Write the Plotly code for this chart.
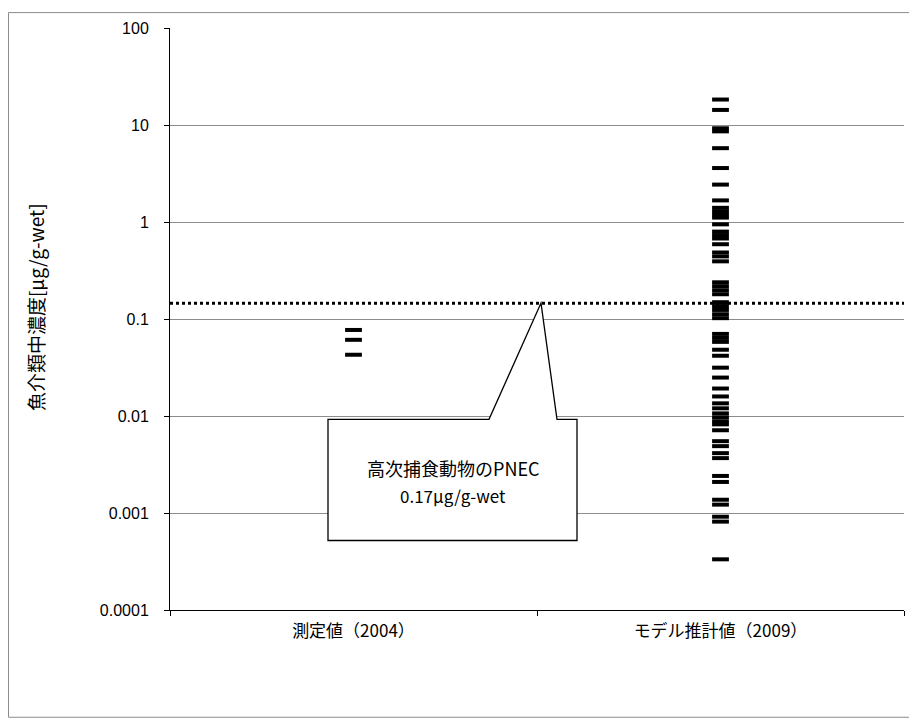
import plotly.graph_objects as go

categories = ["測定値（2004）", "モデル推計値（2009）"]
measured_2004 = [0.0771, 0.0610, 0.0428]
model_2009 = [18.3, 14.3, 9.25, 8.6, 5.77, 3.6, 2.43, 1.67, 1.40, 1.29, 1.19, 1.11,
              0.946, 0.796, 0.733, 0.676, 0.59, 0.485, 0.442, 0.393,
              0.239, 0.218, 0.198, 0.180, 0.149, 0.136, 0.124, 0.112, 0.102,
              0.0702, 0.0638, 0.0581, 0.0482, 0.0418, 0.0315, 0.0249, 0.0192,
              0.0159, 0.0135, 0.0120, 0.01064, 0.00968, 0.00881, 0.0082, 0.00713,
              0.0055, 0.00489, 0.00414, 0.00368, 0.00241, 0.00209, 0.00137, 0.00122,
              0.000916, 0.000815, 0.000333]
pnec_line = 0.145
y_tickvals = [0.0001, 0.001, 0.01, 0.1, 1, 10, 100]
y_ticktext = ["0.0001", "0.001", "0.01", "0.1", "1", "10", "100"]
y_title = "魚介類中濃度[μg/g-wet]"
callout_lines = ["高次捕食動物のPNEC", "0.17μg/g-wet"]

# page body has an 8px margin: screen coordinate = figure coordinate + 8
OFF = 8
W, H = 917 - OFF, 726 - OFF
L, R, T, B = 170 - OFF, 904 - OFF, 24 - OFF, 610 - OFF
def px(x):
    return (x - OFF - L) / (R - L)
def py(y):
    return (B - (y - OFF)) / (B - T)

CJK = "Noto Sans CJK JP, sans-serif"
FONT = "Liberation Sans, Arial, Noto Sans CJK JP, sans-serif"
marker = dict(symbol="line-ew", size=12, line=dict(width=4, color="black"), color="black")

fig = go.Figure()
fig.add_trace(go.Scatter(x=[categories[0]] * len(measured_2004), y=measured_2004,
                         mode="markers", marker=marker, showlegend=False))
fig.add_trace(go.Scatter(x=[categories[1]] * len(model_2009), y=model_2009,
                         mode="markers", marker=marker, showlegend=False))
fig.add_trace(go.Scatter(x=[-0.5, 1.5], y=[pnec_line, pnec_line], xaxis="x2",
                         mode="lines", line=dict(color="black", width=3, dash="dot"),
                         showlegend=False, hoverinfo="skip"))

shapes = [
    dict(type="rect", xref="paper", yref="paper", x0=px(8.5), x1=px(912), y0=py(8.5), y1=py(718),
         line=dict(color="#8c8c8c", width=1), fillcolor="rgba(0,0,0,0)", layer="below"),
    dict(type="path", xref="paper", yref="paper",
         path=(f"M {px(328)},{py(418)} L {px(489)},{py(418)} L {px(541)},{py(301)} "
               f"L {px(557)},{py(418)} L {px(577)},{py(418)} L {px(577)},{py(540)} "
               f"L {px(328)},{py(540)} Z"),
         line=dict(color="black", width=1.3), fillcolor="white", layer="above"),
]

annotations = [
    dict(text=y_title, xref="paper", yref="paper", x=px(35), y=py(305), textangle=-90,
         showarrow=False, xanchor="center", yanchor="middle",
         font=dict(family=CJK, size=19, color="black")),
    dict(text=callout_lines[0], xref="paper", yref="paper", x=px(453), y=py(467),
         showarrow=False, xanchor="center", yanchor="middle",
         font=dict(family=CJK, size=18, color="black")),
    dict(text=callout_lines[1], xref="paper", yref="paper", x=px(453), y=py(495),
         showarrow=False, xanchor="center", yanchor="middle",
         font=dict(family=CJK, size=17, color="black")),
]

fig.update_layout(
    width=W, height=H,
    margin=dict(l=L, r=W - R, t=T, b=H - B),
    paper_bgcolor="white", plot_bgcolor="white",
    font=dict(family=FONT, size=16, color="black"),
    shapes=shapes, annotations=annotations,
    xaxis=dict(type="category", categoryorder="array", categoryarray=categories,
               range=[-0.5, 1.5], tickson="boundaries", ticks="outside", ticklen=5,
               tickcolor="black", showline=True, linecolor="black", linewidth=1,
               showgrid=False, zeroline=False, ticklabelstandoff=6,
               tickfont=dict(family=CJK, size=17)),
    xaxis2=dict(overlaying="x", range=[-0.5, 1.5], visible=False),
    yaxis=dict(type="log", range=[-4, 2], tickvals=y_tickvals, ticktext=y_ticktext,
               ticks="outside", ticklen=5, tickcolor="black", showline=True,
               linecolor="black", linewidth=1, showgrid=True, gridcolor="#8c8c8c",
               gridwidth=1, zeroline=False, tickfont=dict(size=16),
               ticklabelstandoff=12),
)

fig.write_html("out.html")
